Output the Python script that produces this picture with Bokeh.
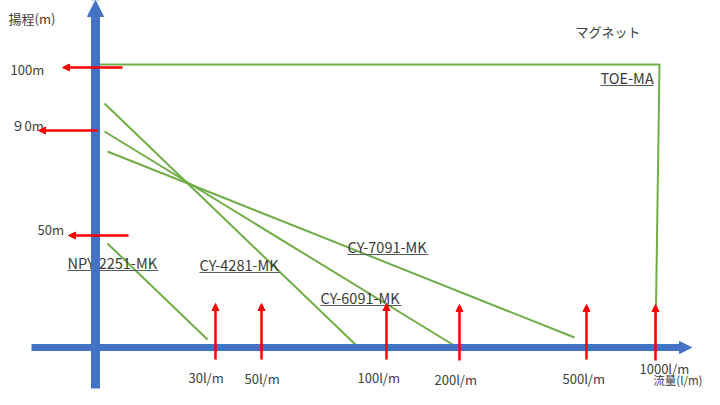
from bokeh.plotting import figure
from bokeh.models import Range1d, Arrow, NormalHead
from bokeh.core.properties import value
from bokeh.embed import file_html
from bokeh.resources import INLINE

# ---- data (diagram coordinates, y grows downward) ----
# pump curves
curve_names = ["NPY-2251-MK", "CY-4281-MK", "CY-6091-MK", "CY-7091-MK"]
curve_x0 = [107, 104, 104, 107]
curve_y0 = [243, 103, 131, 151]
curve_x1 = [207, 358, 457, 574]
curve_y1 = [339, 347, 347, 337]
# magnet pump TOE-MA
toe_x = [98, 659, 655]
toe_y = [64, 64, 343]

# head markers (red arrows pointing left)
head_labels = ["100m", "９0m", "50m"]
head_x0 = [122, 97, 128]
head_x1 = [62, 38, 68]
head_y = [67, 130, 235]
head_lab_x = [10, 11, 37]
head_lab_y = [69, 125, 229]

# flow markers (red arrows pointing up)
flow_labels = ["30l/m", "50l/m", "100l/m", "200l/m", "500l/m", "1000l/m"]
flow_x = [215, 261, 386, 459, 586, 655]
flow_y0 = [359, 359, 359, 360, 359, 360]
flow_y1 = [303, 303, 303, 304, 304, 304]
flow_lab_x = [188, 244, 357, 434, 562, 639]
flow_lab_y = [377, 378, 377, 379, 378, 368]

# model labels (underlined)
model_labels = ["NPY-2251-MK", "CY-4281-MK", "CY-6091-MK", "CY-7091-MK", "TOE-MA"]
model_x = [67, 199, 320, 347, 600]
model_x_end = [158, 279, 401, 428, 653]
model_y = [262, 264, 297, 246, 77]

# axes
vaxis_x = 95
vaxis_y = [388, 0]
haxis_y = 347
haxis_x = [31, 691]

BLUE = "#4472C4"
GREEN = "#70AD47"
RED = "#FF0000"
TXT = "#404040"
FONT = value("Noto Sans CJK JP")

p = figure(width=704, height=389, x_range=Range1d(0, 704), y_range=Range1d(389, 0),
           output_backend="svg", toolbar_location=None, min_border=0,
           x_axis_location=None, y_axis_location=None)
p.grid.visible = False
p.outline_line_color = None
p.background_fill_color = "white"

# horizontal axis
p.add_layout(Arrow(end=NormalHead(size=12, fill_color=BLUE, line_color=BLUE, line_width=1),
                   x_start=haxis_x[0], y_start=haxis_y, x_end=haxis_x[1], y_end=haxis_y,
                   line_color=BLUE, line_width=7))
# vertical axis
p.add_layout(Arrow(end=NormalHead(size=16, fill_color=BLUE, line_color=BLUE, line_width=1),
                   x_start=vaxis_x, y_start=vaxis_y[0], x_end=vaxis_x, y_end=vaxis_y[1],
                   line_color=BLUE, line_width=9))

# curves
p.segment(x0=curve_x0, y0=curve_y0, x1=curve_x1, y1=curve_y1, line_color=GREEN, line_width=2)
p.line(toe_x, toe_y, line_color=GREEN, line_width=2)

# red arrows
for x0, x1, y in zip(head_x0, head_x1, head_y):
    p.add_layout(Arrow(end=NormalHead(size=7, fill_color=RED, line_color=RED, line_width=1),
                       x_start=x0, y_start=y, x_end=x1, y_end=y, line_color=RED, line_width=2.5))
for x, y0, y1 in zip(flow_x, flow_y0, flow_y1):
    p.add_layout(Arrow(end=NormalHead(size=7, fill_color=RED, line_color=RED, line_width=1),
                       x_start=x, y_start=y0, x_end=x, y_end=y1, line_color=RED, line_width=2.5))

def txt(xs, ys, texts, align="left", size="13px", color=TXT):
    p.text(x=xs, y=ys, text=texts, text_align=align, text_baseline="middle",
           text_font=FONT, text_font_size=size, text_color=color)

txt(head_lab_x, head_lab_y, head_labels)
txt(flow_lab_x, flow_lab_y, flow_labels)
txt(model_x, model_y, model_labels, size="14.5px", color="#3a3a3a")
p.segment(x0=model_x, x1=model_x_end, y0=[y + 8 for y in model_y], y1=[y + 8 for y in model_y],
          line_color="#595959", line_width=1.2)
txt([8], [18], ["揚程(m)"])
txt([575], [31], ["マグネット"])
txt([702], [379], ["流量(l/m)"], align="right", size="11.5px")

open("out.html", "w").write(file_html(p, INLINE))
